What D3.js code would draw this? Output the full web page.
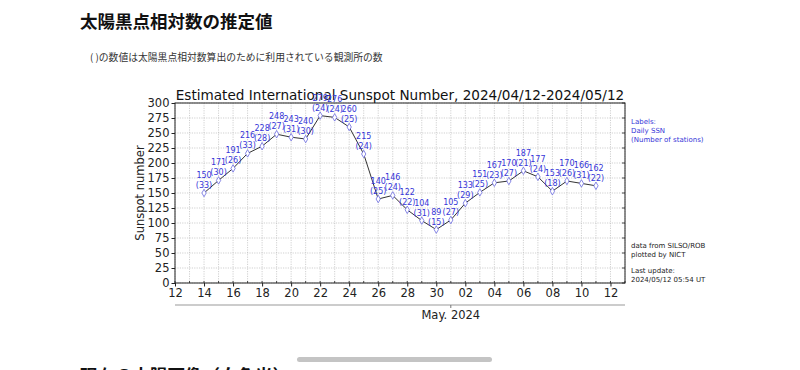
<!DOCTYPE html>
<html>
<head>
<meta charset="utf-8">
<script src="https://cdn.jsdelivr.net/npm/d3@7"></script>
<style>
  body { margin: 0; background: #fff; overflow: hidden; }
  svg { display: block; }
  .tick text { font-family: "DejaVu Sans", sans-serif; }
</style>
</head>
<body>
<script>
// daily values, 2024/04/14 - 2024/05/11
const dates = [
  "2024-04-14", "2024-04-15", "2024-04-16", "2024-04-17", "2024-04-18",
  "2024-04-19", "2024-04-20", "2024-04-21", "2024-04-22", "2024-04-23",
  "2024-04-24", "2024-04-25", "2024-04-26", "2024-04-27", "2024-04-28",
  "2024-04-29", "2024-04-30", "2024-05-01", "2024-05-02", "2024-05-03",
  "2024-05-04", "2024-05-05", "2024-05-06", "2024-05-07", "2024-05-08",
  "2024-05-09", "2024-05-10", "2024-05-11"
];
const ssn = [150, 171, 191, 216, 228, 248, 243, 240, 279, 276, 260, 215, 140, 146,
  122, 104, 89, 105, 133, 151, 167, 170, 187, 177, 153, 170, 166, 162];
const stations = [33, 30, 26, 33, 28, 27, 31, 30, 24, 24, 25, 24, 25, 24,
  22, 31, 15, 27, 29, 25, 23, 27, 21, 24, 18, 26, 31, 22];
const yTicks = [0, 25, 50, 75, 100, 125, 150, 175, 200, 225, 250, 275, 300];
const rightNotes = ["Labels:", "Daily SSN", "(Number of stations)"];
const creditNotes = ["data from SILSO/ROB", "plotted by NICT"];
const updateNotes = ["Last update:", "2024/05/12 05:54 UT"];

const parse = d3.utcParse("%Y-%m-%d");
const data = dates.map((d, i) => ({ date: parse(d), v: ssn[i], n: stations[i] }));

const W = 800, H = 370;
const svg = d3.select("body").append("svg").attr("width", W).attr("height", H);

const CJK = '"Noto Sans CJK JP", "Noto Sans", sans-serif';
const DJ = '"DejaVu Sans", sans-serif';

// page headings
svg.append("text").attr("x", 80).attr("y", 28)
  .style("font", `bold 17.5px ${CJK}`).style("fill", "#111")
  .text("太陽黒点相対数の推定値");
svg.append("text").attr("x", 90).attr("y", 61)
  .style("font", `9.8px ${CJK}`).style("fill", "#333")
  .text("( )の数値は太陽黒点相対数算出のために利用されている観測所の数");

const pLeft = 175, pRight = 625, pTop = 103, pBottom = 283;

const x = d3.scaleUtc()
  .domain([parse("2024-04-12"), parse("2024-05-13")])
  .range([pLeft, pRight]);
const y = d3.scaleLinear().domain([0, 300]).range([pBottom, pTop]);

const days = d3.utcDay.range(parse("2024-04-12"), parse("2024-05-14"));
const evenDays = days.filter((d, i) => i % 2 === 0);

// grid
svg.append("g").selectAll("line").data(days).join("line")
  .attr("x1", d => x(d)).attr("x2", d => x(d))
  .attr("y1", pTop).attr("y2", pBottom)
  .attr("stroke", "#bbb").attr("stroke-width", 0.7).attr("stroke-dasharray", "1.2,1.2");
svg.append("g").selectAll("line").data(yTicks).join("line")
  .attr("x1", pLeft).attr("x2", pRight)
  .attr("y1", d => y(d)).attr("y2", d => y(d))
  .attr("stroke", "#bbb").attr("stroke-width", 0.7).attr("stroke-dasharray", "1.2,1.2");

// axes
svg.append("g").attr("transform", `translate(${pLeft},0)`)
  .call(d3.axisLeft(y).tickValues(yTicks).tickSize(3.5).tickPadding(2))
  .call(g => g.select(".domain").remove())
  .call(g => g.selectAll("text").style("font-size", "11.5px").style("fill", "#222"))
  .call(g => g.selectAll("line").attr("stroke", "#222"));

svg.append("g").attr("transform", `translate(0,${pBottom})`)
  .call(d3.axisBottom(x).tickValues(evenDays).tickFormat(d3.utcFormat("%d")).tickSize(3.5).tickPadding(2))
  .call(g => g.select(".domain").remove())
  .call(g => g.selectAll("text").style("font-size", "11.5px").style("fill", "#222"))
  .call(g => g.selectAll("line").attr("stroke", "#222"));

// minor x ticks (inward)
svg.append("g").selectAll("line").data(days).join("line")
  .attr("x1", d => x(d)).attr("x2", d => x(d))
  .attr("y1", pBottom).attr("y2", pBottom - 2)
  .attr("stroke", "#222").attr("stroke-width", 0.8);

// right inward ticks
svg.append("g").selectAll("line").data(yTicks).join("line")
  .attr("x1", pRight).attr("x2", pRight - 3)
  .attr("y1", d => y(d)).attr("y2", d => y(d))
  .attr("stroke", "#222").attr("stroke-width", 0.8);

// frame
svg.append("rect").attr("x", pLeft).attr("y", pTop)
  .attr("width", pRight - pLeft).attr("height", pBottom - pTop)
  .attr("fill", "none").attr("stroke", "#222").attr("stroke-width", 1);

// month axis
svg.append("line").attr("x1", pLeft).attr("x2", pRight).attr("y1", 305).attr("y2", 305)
  .attr("stroke", "#999").attr("stroke-width", 1.2);
svg.append("line").attr("x1", x(parse("2024-05-01"))).attr("x2", x(parse("2024-05-01")))
  .attr("y1", 305).attr("y2", 308).attr("stroke", "#777");
svg.append("text").attr("x", x(parse("2024-05-01"))).attr("y", 319)
  .attr("text-anchor", "middle").style("font", `11.5px ${DJ}`).style("fill", "#222")
  .text("May. 2024");

// title
svg.append("text").attr("x", (pLeft + pRight) / 2).attr("y", 100)
  .attr("text-anchor", "middle").style("font", `13.6px ${DJ}`).style("fill", "#111")
  .text("Estimated International Sunspot Number, 2024/04/12-2024/05/12");

// y label
svg.append("text").attr("transform", `translate(144,${(pTop + pBottom) / 2}) rotate(-90)`)
  .attr("text-anchor", "middle").style("font", `11.5px ${DJ}`).style("fill", "#222")
  .text("Sunspot number");

// line and markers
const line = d3.line().x(d => x(d.date)).y(d => y(d.v));
svg.append("path").datum(data).attr("d", line)
  .attr("fill", "none").attr("stroke", "#333").attr("stroke-width", 1);

svg.append("g").selectAll("path").data(data).join("path")
  .attr("d", d3.symbol(d3.symbolDiamond, 16))
  .attr("transform", d => `translate(${x(d.date)},${y(d.v)})`)
  .attr("fill", "#fff").attr("stroke", "#6a6ae0").attr("stroke-width", 0.8);

// labels
const lab = svg.append("g").style("font", `8px ${DJ}`).style("fill", "#3636d8")
  .attr("text-anchor", "middle");
lab.selectAll("text.v").data(data).join("text").attr("class", "v")
  .attr("x", d => x(d.date)).attr("y", d => y(d.v) - 15)
  .text(d => d.v);
lab.selectAll("text.n").data(data).join("text").attr("class", "n")
  .attr("x", d => x(d.date)).attr("y", d => y(d.v) - 5)
  .text(d => `(${d.n})`);

// right side notes
const notes = svg.append("g").style("font", `7px ${DJ}`);
notes.selectAll("text.b").data(rightNotes).join("text").attr("class", "b")
  .attr("x", 631).attr("y", (d, i) => 124 + i * 9).style("fill", "#3636d8").text(d => d);
notes.selectAll("text.c").data(creditNotes).join("text").attr("class", "c")
  .attr("x", 631).attr("y", (d, i) => 248 + i * 9).style("fill", "#222").text(d => d);
notes.selectAll("text.u").data(updateNotes).join("text").attr("class", "u")
  .attr("x", 631).attr("y", (d, i) => 273 + i * 9).style("fill", "#222").text(d => d);

// scroll indicator and next heading (cut off)
svg.append("rect").attr("x", 297).attr("y", 357).attr("width", 195).attr("height", 5)
  .attr("rx", 2.5).attr("fill", "#c4c4c4");
svg.append("text").attr("x", 80).attr("y", 382)
  .style("font", `bold 17.5px ${CJK}`).style("fill", "#111")
  .text("現在の太陽画像（白色光）");
</script>
</body>
</html>
